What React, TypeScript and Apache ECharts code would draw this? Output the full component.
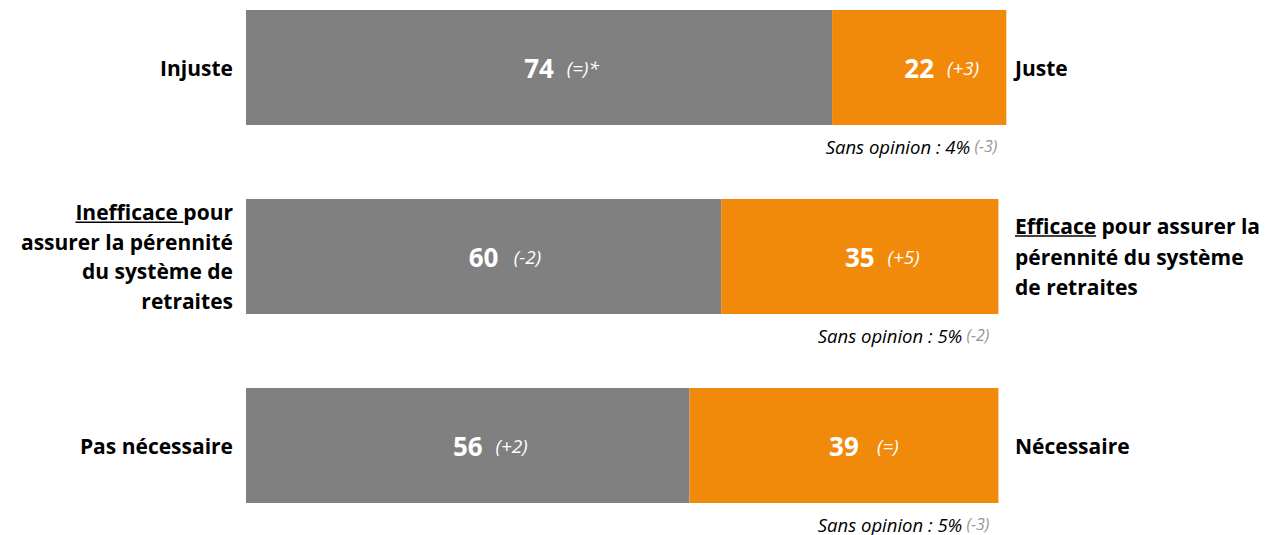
import React, { useEffect, useRef } from "react";
import * as echarts from "echarts";

const categories = ["row1", "row2", "row3"];
const leftLabels = [
  "Injuste",
  "Inefficace pour\nassurer la pérennité\ndu système de\nretraites",
  "Pas nécessaire",
];
const rightLabels = [
  "Juste",
  "Efficace pour assurer la\npérennité du système\nde retraites",
  "Nécessaire",
];
const grayValues = [74, 60, 56];
const grayDeltas = ["(=)*", "(-2)", "(+2)"];
const orangeValues = [22, 35, 39];
const orangeDeltas = ["(+3)", "(+5)", "(=)"];
const noOpinion = [4, 5, 5];
const noOpinionDeltas = ["(-3)", "(-2)", "(-3)"];

const FONT = "'Open Sans', Lato, sans-serif";
const GRAY = "#808080";
const ORANGE = "#F18A0B";
const SHIFT = 27;
const LAB_SIZE = 21;

function measure(text: string, font: string) {
  const c = document.createElement("canvas").getContext("2d")!;
  c.font = font;
  return c.measureText(text).width;
}

export default function App() {
  const ref = useRef<HTMLDivElement>(null);
  useEffect(() => {
    const chart = echarts.init(ref.current!, null, { renderer: "svg" });
    const rich = () => ({
      s: { width: 54 },
      n: { fontSize: 26, fontWeight: "bold", color: "#fff", fontFamily: FONT },
      d: {
        width: 50,
        padding: [0, 0, 0, 4],
        fontSize: 19,
        fontStyle: "italic",
        color: "#fff",
        fontFamily: FONT,
        align: "left",
      },
    });
    chart.setOption({
      animation: false,
      grid: { left: 246, width: 792, top: 0, height: 567 },
      xAxis: { type: "value", min: 0, max: 100, show: false },
      yAxis: [
        {
          type: "category",
          data: categories,
          inverse: true,
          axisLine: { show: false },
          axisTick: { show: false },
          axisLabel: {
            margin: 13,
            align: "right",
            fontSize: LAB_SIZE,
            fontWeight: "bold",
            color: "#000",
            fontFamily: FONT,
            lineHeight: 29.5,
            formatter: (_: string, i: number) => leftLabels[i],
          },
        },
        {
          type: "category",
          data: categories,
          inverse: true,
          position: "right",
          offset: -23,
          axisLine: { show: false },
          axisTick: { show: false },
          axisLabel: {
            margin: 0,
            align: "left",
            fontSize: LAB_SIZE,
            fontWeight: "bold",
            color: "#000",
            fontFamily: FONT,
            lineHeight: 30.5,
            formatter: (_: string, i: number) => rightLabels[i],
          },
        },
      ],
      series: [
        {
          type: "bar",
          stack: "t",
          barWidth: 115,
          data: grayValues,
          itemStyle: { color: GRAY },
          label: {
            show: true,
            position: "inside",
            formatter: (p: any) => `{s|}{n|${p.value}}{d|${grayDeltas[p.dataIndex]}}`,
            rich: rich(),
          },
        },
        {
          type: "bar",
          stack: "t",
          barWidth: 115,
          data: orangeValues,
          itemStyle: { color: ORANGE },
          label: {
            show: true,
            position: "inside",
            formatter: (p: any) => `{s|}{n|${p.value}}{d|${orangeDeltas[p.dataIndex]}}`,
            rich: rich(),
          },
        },
      ],
    });

    const graphics: any[] = [];
    categories.forEach((c, i) => {
      const end = chart.convertToPixel({ gridIndex: 0 }, [grayValues[i] + orangeValues[i], c]) as number[];
      const y = end[1] + 57.5 + 21;
      graphics.push({
        type: "text",
        x: end[0] - 9,
        y,
        style: {
          text: `{a|Sans opinion : ${noOpinion[i]}%}{b| ${noOpinionDeltas[i]}}`,
          align: "right",
          verticalAlign: "middle",
          rich: {
            a: { fontSize: 18.5, fontStyle: "italic", fill: "#000", fontFamily: FONT },
            b: { fontSize: 16, fontStyle: "italic", fill: "#959595", fontFamily: FONT },
          },
        },
      });
    });
    const labFont = `bold ${LAB_SIZE}px 'Open Sans'`;
    const c2 = chart.convertToPixel({ gridIndex: 0 }, [0, categories[1]]) as number[];
    const leftRight = 246 - 13;
    const w1 = measure("Inefficace pour", labFont);
    const wU = measure("Inefficace ", labFont);
    const yL = c2[1] - 1.5 * 29.5 + 10;
    graphics.push({
      type: "line",
      shape: { x1: leftRight - w1, y1: yL, x2: leftRight - w1 + wU, y2: yL },
      style: { stroke: "#000", lineWidth: 1.5 },
    });
    const rightLeft = 1015;
    const wE = measure("Efficace", labFont);
    const yR = c2[1] - 30.5 + 10;
    graphics.push({
      type: "line",
      shape: { x1: rightLeft, y1: yR, x2: rightLeft + wE, y2: yR },
      style: { stroke: "#000", lineWidth: 1.5 },
    });
    chart.setOption({ graphic: graphics });
    return () => chart.dispose();
  }, []);
  return (
    <div
      ref={ref}
      style={{ position: "fixed", left: 0, top: -SHIFT, width: 1272, height: 600, background: "#fff" }}
    />
  );
}
